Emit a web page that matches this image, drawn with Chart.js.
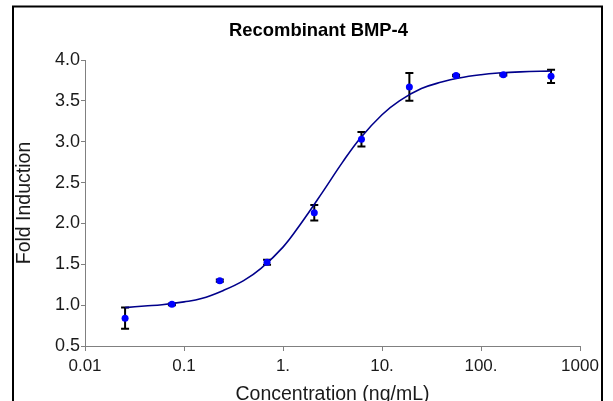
<!DOCTYPE html>
<html>
<head>
<meta charset="utf-8">
<script src="https://cdn.jsdelivr.net/npm/chart.js@4/dist/chart.umd.min.js"></script>
<style>
  html, body { margin: 0; padding: 0; background: #ffffff; }
  #wrap { width: 613px; height: 401px; position: relative; }
</style>
</head>
<body>
<div id="wrap"><canvas id="c" width="613" height="401"></canvas></div>
<script>
// ---- Data ----
const chartTitle = 'Recombinant BMP-4';
const xTitle = 'Concentration (ng/mL)';
const yTitle = 'Fold Induction';

// measured points (ng/mL) with mean and error (±)
const concentrations = [0.0254, 0.0755, 0.23, 0.69, 2.07, 6.2, 18.9, 56, 168, 510];
const foldMeans      = [0.84, 1.01, 1.30, 1.525, 2.13, 3.03, 3.67, 3.81, 3.82, 3.80];
const foldErrors     = [0.13, 0.01, 0.015, 0.03, 0.095, 0.09, 0.17, 0.01, 0.01, 0.08];

// fitted curve, read along its path
const curveX = [0.0254, 0.04, 0.06, 0.1, 0.15, 0.25, 0.4, 0.6, 1, 1.5, 2.5, 4, 6, 10, 15, 25, 40, 60, 100, 150, 250, 510];
const curveY = [0.97, 0.99, 1.005, 1.04, 1.08, 1.18, 1.30, 1.45, 1.71, 1.99, 2.38, 2.75, 3.04, 3.33, 3.50, 3.65, 3.73, 3.78, 3.82, 3.84, 3.855, 3.865];

// axis ticks
const xTickValues = [0.01, 0.1, 1, 10, 100, 1000];
const xTickLabels = ['0.01', '0.1', '1.', '10.', '100.', '1000'];
const yMin = 0.5, yMax = 4.0, yStep = 0.5;

// ---- Build chart ----
const FONT = "'Liberation Sans', Arial, sans-serif";
const pointData = concentrations.map((x, i) => ({ x: x, y: foldMeans[i] }));
const curveData = curveX.map((x, i) => ({ x: x, y: curveY[i] }));

const errorBarPlugin = {
  id: 'errorBars',
  beforeDatasetsDraw(chart) {
    const ctx = chart.ctx;
    const xs = chart.scales.x, ys = chart.scales.y;
    ctx.save();
    ctx.strokeStyle = '#000000';
    ctx.lineWidth = 2;
    concentrations.forEach((c, i) => {
      const px = xs.getPixelForValue(c);
      const top = ys.getPixelForValue(foldMeans[i] + foldErrors[i]);
      const bot = ys.getPixelForValue(foldMeans[i] - foldErrors[i]);
      const cap = 4;
      ctx.beginPath();
      ctx.moveTo(px, top); ctx.lineTo(px, bot);
      ctx.moveTo(px - cap, top); ctx.lineTo(px + cap, top);
      ctx.moveTo(px - cap, bot); ctx.lineTo(px + cap, bot);
      ctx.stroke();
    });
    ctx.restore();
  }
};

const framePlugin = {
  id: 'frame',
  afterDraw(chart) {
    const ctx = chart.ctx;
    ctx.save();
    ctx.strokeStyle = '#000000';
    ctx.lineWidth = 2;
    ctx.strokeRect(13, 6.5, 589, 500);
    ctx.fillStyle = '#000000';
    ctx.font = 'bold 18.4px ' + FONT;
    ctx.textAlign = 'center';
    ctx.textBaseline = 'middle';
    ctx.fillText(chartTitle, 318.5, 31);
    ctx.restore();
  }
};

new Chart(document.getElementById('c'), {
  data: {
    datasets: [
      {
        type: 'line',
        data: curveData,
        borderColor: '#00008b',
        borderWidth: 1.6,
        pointRadius: 0,
        fill: false,
        tension: 0.4,
        order: 2
      },
      {
        type: 'scatter',
        data: pointData,
        backgroundColor: '#0000ff',
        borderColor: '#0000ff',
        pointRadius: 3.5,
        pointBorderWidth: 0,
        showLine: false,
        order: 1
      }
    ]
  },
  options: {
    responsive: false,
    animation: false,
    devicePixelRatio: 1,
    layout: { padding: { left: 14, right: 33, top: 60, bottom: 0 } },
    plugins: {
      legend: { display: false },
      tooltip: { enabled: false },
      title: { display: false }
    },
    scales: {
      x: {
        type: 'logarithmic',
        position: 'bottom',
        min: 0.01,
        max: 1000,
        afterBuildTicks(scale) {
          scale.ticks = xTickValues.map(v => ({ value: v }));
        },
        afterFit(scale) {
          scale.height = 55;
          scale.paddingLeft = 0;
          scale.paddingRight = 0;
        },
        grid: {
          display: true,
          drawOnChartArea: false,
          drawTicks: true,
          tickLength: 5,
          color: '#808080',
          lineWidth: 1
        },
        border: { display: true, color: '#808080', width: 1 },
        ticks: {
          autoSkip: false,
          maxRotation: 0,
          padding: 5,
          color: '#1a1a1a',
          font: { family: FONT, size: 17 },
          callback: function (value, index) { return xTickLabels[index]; }
        },
        title: {
          display: true,
          text: xTitle,
          color: '#1a1a1a',
          font: { family: FONT, size: 19.5, lineHeight: 1.0 },
          padding: { top: 0, bottom: -3 }
        }
      },
      y: {
        type: 'linear',
        position: 'left',
        min: yMin,
        max: yMax,
        afterFit(scale) {
          scale.width = 71;
          scale.paddingTop = 0;
          scale.paddingBottom = 0;
        },
        grid: {
          display: true,
          drawOnChartArea: false,
          drawTicks: true,
          tickLength: 4,
          color: '#808080',
          lineWidth: 1
        },
        border: { display: true, color: '#808080', width: 1 },
        ticks: {
          stepSize: yStep,
          padding: 1,
          color: '#1a1a1a',
          font: { family: FONT, size: 18 },
          callback: function (v) { return v.toFixed(1); }
        },
        title: {
          display: true,
          text: yTitle,
          color: '#1a1a1a',
          font: { family: FONT, size: 19.5, lineHeight: 1.2 },
          padding: { top: -1, bottom: 0 }
        }
      }
    }
  },
  plugins: [errorBarPlugin, framePlugin]
});
</script>
</body>
</html>
